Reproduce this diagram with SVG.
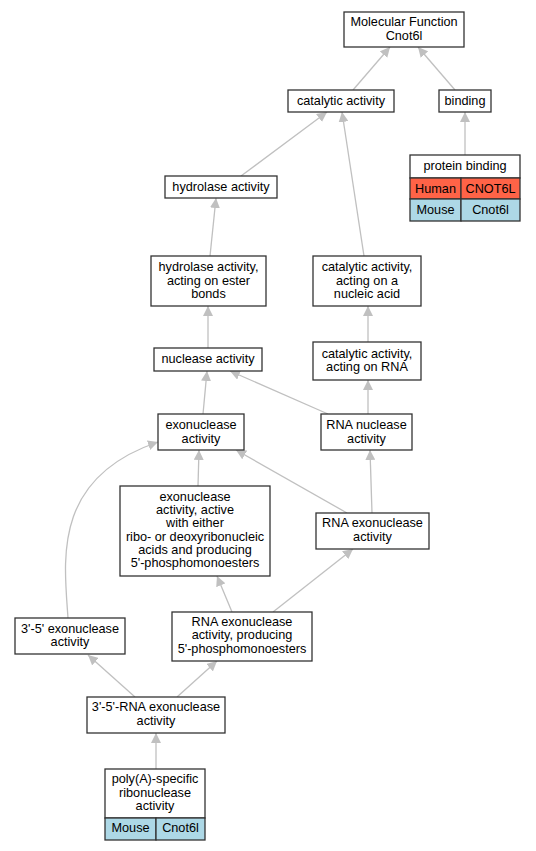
<svg xmlns="http://www.w3.org/2000/svg" width="536" height="851" viewBox="0 0 536 851">
<style>
rect{fill:#fff;stroke:#333;stroke-width:1.3}
rect.h{fill:#ff6347}
rect.m{fill:#add8e6}
text{font-family:"Liberation Sans",Arial,sans-serif;font-size:12.7px;text-anchor:middle;fill:#000}
.e path{fill:none;stroke:#c0c0c0;stroke-width:1.3;marker-end:url(#a)}
</style>
<defs>
<marker id="a" markerUnits="userSpaceOnUse" markerWidth="11" markerHeight="10" refX="10" refY="5" orient="auto" viewBox="0 0 11 10">
<path d="M0,0 L10,5 L0,10 z" fill="#c0c0c0"/>
</marker>
</defs>
<g class="e" id="edges">
<path d="M353,90 L390,47"/>
<path d="M455,90 L418,47"/>
<path d="M465,155 L465,112"/>
<path d="M241,176 L327,112"/>
<path d="M364,256 L342,112"/>
<path d="M210,256 L216,198"/>
<path d="M368,342 L368,306"/>
<path d="M208,348 L208,306"/>
<path d="M203,414 L207,371"/>
<path d="M328,414 L230,371"/>
<path d="M368,414 L368,380"/>
<path d="M198,486 L199,450"/>
<path d="M347,513 L236,450"/>
<path d="M372,513 L370,450"/>
<path d="M68,618 C64,560 52,478 158,442"/>
<path d="M232,612 L217,576"/>
<path d="M273,612 L353,549"/>
<path d="M135,697 L88,655"/>
<path d="M177,697 L217,661"/>
<path d="M156,769 L156,733"/>
</g>
<g id="n_mf"><rect x="344" y="12" width="120" height="35"/><text x="404" y="26">Molecular Function</text><text x="404" y="40">Cnot6l</text></g>
<g id="n_cat"><rect x="288" y="90" width="106" height="22"/><text x="341" y="105">catalytic activity</text></g>
<g id="n_bind"><rect x="439" y="90" width="52" height="22"/><text x="465" y="105">binding</text></g>
<g id="n_pb"><rect x="410" y="155" width="110" height="23"/><text x="465" y="170">protein binding</text>
<rect class="h" x="410" y="178" width="51" height="21"/><rect class="h" x="461" y="178" width="59" height="21"/>
<text x="435.5" y="193">Human</text><text x="490.5" y="193">CNOT6L</text>
<rect class="m" x="410" y="199" width="51" height="22"/><rect class="m" x="461" y="199" width="59" height="22"/>
<text x="435.5" y="214">Mouse</text><text x="490.5" y="214">Cnot6l</text></g>
<g id="n_hyd"><rect x="165" y="176" width="112" height="22"/><text x="221" y="191">hydrolase activity</text></g>
<g id="n_hydest"><rect x="151" y="256" width="115" height="50"/><text x="208.5" y="271">hydrolase activity,</text><text x="208.5" y="285">acting on ester</text><text x="208.5" y="298">bonds</text></g>
<g id="n_catna"><rect x="313" y="256" width="108" height="50"/><text x="367" y="271">catalytic activity,</text><text x="367" y="285">acting on a</text><text x="367" y="298">nucleic acid</text></g>
<g id="n_nuc"><rect x="154" y="348" width="108" height="23"/><text x="208" y="363">nuclease activity</text></g>
<g id="n_catrna"><rect x="313" y="342" width="108" height="38"/><text x="367" y="357.5">catalytic activity,</text><text x="367" y="371">acting on RNA</text></g>
<g id="n_exo"><rect x="158" y="414" width="86" height="36"/><text x="201" y="429">exonuclease</text><text x="201" y="442.5">activity</text></g>
<g id="n_rnanuc"><rect x="321" y="414" width="91" height="36"/><text x="366.5" y="429">RNA nuclease</text><text x="366.5" y="442.5">activity</text></g>
<g id="n_exoeither"><rect x="120" y="486" width="150" height="90"/>
<text x="195" y="501">exonuclease</text><text x="195" y="514">activity, active</text><text x="195" y="527">with either</text><text x="195" y="541">ribo- or deoxyribonucleic</text><text x="195" y="554">acids and producing</text><text x="195" y="567">5'-phosphomonoesters</text></g>
<g id="n_rnaexo"><rect x="316" y="513" width="113" height="36"/><text x="372.5" y="527">RNA exonuclease</text><text x="372.5" y="541">activity</text></g>
<g id="n_35exo"><rect x="15" y="618" width="110" height="36"/><text x="70" y="633">3'-5' exonuclease</text><text x="70" y="646">activity</text></g>
<g id="n_rnaexoprod"><rect x="172" y="612" width="140" height="49"/><text x="242" y="626">RNA exonuclease</text><text x="242" y="639">activity, producing</text><text x="242" y="653">5'-phosphomonoesters</text></g>
<g id="n_35rna"><rect x="87" y="697" width="138" height="36"/><text x="156" y="711">3'-5'-RNA exonuclease</text><text x="156" y="725">activity</text></g>
<g id="n_polya"><rect x="105" y="769" width="100" height="49"/><text x="155" y="783">poly(A)-specific</text><text x="155" y="797">ribonuclease</text><text x="155" y="810">activity</text>
<rect class="m" x="105" y="818" width="51" height="22"/><rect class="m" x="156" y="818" width="49" height="22"/>
<text x="130.5" y="832">Mouse</text><text x="180.5" y="832">Cnot6l</text></g>
</svg>
